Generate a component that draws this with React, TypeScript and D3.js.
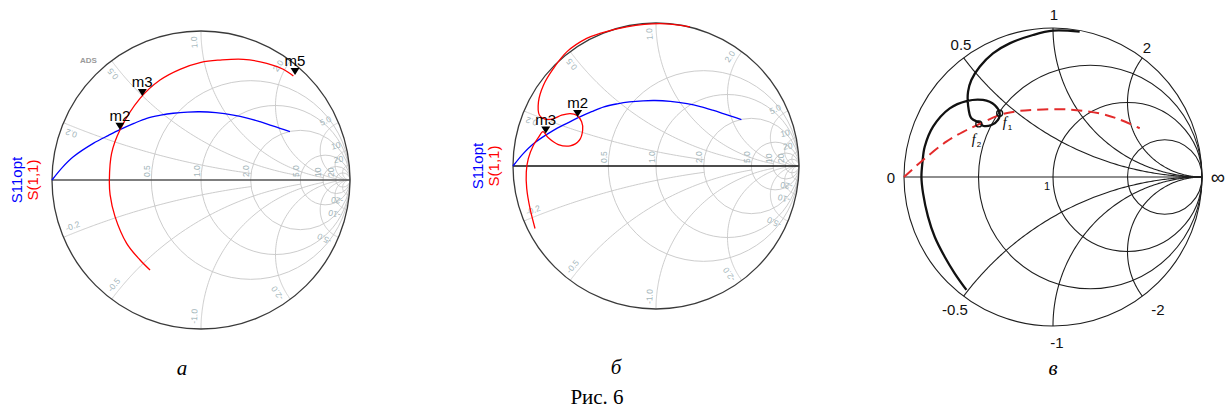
import React from "react";
import * as d3 from "d3";

type Pt = [number, number];

// traces as reflection coefficient (re, im)
const s11opt: Pt[] = [
  [-1, 0], [-0.93, 0.085], [-0.857, 0.156], [-0.723, 0.246], [-0.62, 0.3],
  [-0.544, 0.338], [-0.45, 0.38], [-0.364, 0.414], [-0.27, 0.435], [-0.186, 0.448],
  [-0.09, 0.456], [-0.007, 0.458], [0.1, 0.452], [0.217, 0.436], [0.31, 0.416],
  [0.396, 0.391], [0.47, 0.367], [0.53, 0.347], [0.597, 0.324],
];

const s11a: Pt[] = [
  [-0.342, -0.604], [-0.409, -0.537], [-0.499, -0.425], [-0.577, -0.246], [-0.61, -0.1],
  [-0.615, 0], [-0.6, 0.179], [-0.544, 0.336], [-0.409, 0.548], [-0.275, 0.671],
  [-0.141, 0.743], [0, 0.79], [0.128, 0.805], [0.284, 0.81], [0.441, 0.783],
  [0.552, 0.743], [0.62, 0.698],
];

const s11b: Pt[] = [
  [0.238, 0.973], [0.028, 0.995], [-0.205, 0.973], [-0.392, 0.927], [-0.485, 0.892],
  [-0.624, 0.798], [-0.717, 0.682], [-0.787, 0.565], [-0.822, 0.448], [-0.815, 0.355],
  [-0.78, 0.33], [-0.72, 0.33], [-0.66, 0.355], [-0.6, 0.366], [-0.555, 0.355],
  [-0.52, 0.31], [-0.513, 0.25], [-0.536, 0.18], [-0.6, 0.141], [-0.683, 0.15],
  [-0.753, 0.197], [-0.79, 0.24], [-0.822, 0.2], [-0.857, 0.145], [-0.893, 0.052],
  [-0.907, -0.04], [-0.904, -0.157], [-0.881, -0.297], [-0.846, -0.437],
];

const curveC: Pt[] = [
  [-0.581, -0.758], [-0.66, -0.646], [-0.727, -0.535], [-0.794, -0.401], [-0.839, -0.266],
  [-0.872, -0.11], [-0.883, 0], [-0.876, 0.1], [-0.861, 0.203], [-0.805, 0.338],
  [-0.693, 0.461], [-0.581, 0.51], [-0.47, 0.517], [-0.391, 0.483], [-0.358, 0.428],
  [-0.369, 0.383], [-0.413, 0.349], [-0.47, 0.344], [-0.492, 0.364], [-0.548, 0.394],
  [-0.57, 0.483], [-0.57, 0.573], [-0.548, 0.651], [-0.492, 0.74], [-0.403, 0.83],
  [-0.291, 0.897], [-0.134, 0.953], [0, 0.982], [0.179, 0.975],
];

const optC: Pt[] = [
  [-1, 0], [-0.872, 0.114], [-0.716, 0.237], [-0.6, 0.305], [-0.492, 0.356],
  [-0.358, 0.416], [-0.25, 0.44], [-0.134, 0.45], [0.09, 0.454], [0.313, 0.427],
  [0.45, 0.385], [0.582, 0.327],
];

const markersA = [
  { name: "m2", at: [-0.544, 0.338] as Pt },
  { name: "m3", at: [-0.394, 0.564] as Pt },
  { name: "m5", at: [0.631, 0.705] as Pt },
];
const markersB = [
  { name: "m2", at: [-0.548, 0.343] as Pt },
  { name: "m3", at: [-0.771, 0.227] as Pt },
];
const freqC = [
  { name: "1", at: [-0.358, 0.428] as Pt },
  { name: "2", at: [-0.498, 0.356] as Pt },
];

// ADS grid
const adsR = [0.5, 1, 2, 5, 10, 20];
const adsRLabels = ["0.5", "1.0", "2.0", "5.0", "10", "20"];
const adsX = [0.2, 0.5, 1, 2, 5, 10, 20];
const adsXLabels = ["0.2", "0.5", "1.0", "2.0", "5.0", "10", "20"];

// plain grid of в
const gridR = [1 / 3, 1, 3];
const gridX = [0.5, 1, 2, -0.5, -1, -2];

const gamma = (r: number, x: number): Pt => {
  const d = (r + 1) * (r + 1) + x * x;
  return [(r * r - 1 + x * x) / d, (2 * x) / d];
};

const xArcPoints = (x: number, rMax: number): Pt[] => {
  const pts: Pt[] = [gamma(0, x)];
  for (let k = -2; k < Math.log10(rMax); k += 0.02) pts.push(gamma(Math.pow(10, k), x));
  pts.push(gamma(rMax, x));
  return pts;
};

const scalesFor = (cx: number, cy: number, R: number) => {
  const sx = d3.scaleLinear().domain([-1, 1]).range([cx - R, cx + R]);
  const sy = d3.scaleLinear().domain([-1, 1]).range([cy + R, cy - R]);
  return { sx, sy };
};

const AdsChart = ({ cx, cy, R, red, markers, ads, axisColor }:
  { cx: number; cy: number; R: number; red: Pt[]; markers: { name: string; at: Pt }[]; ads?: boolean; axisColor: string }) => {
  const { sx, sy } = scalesFor(cx, cy, R);
  const straight = d3.line<Pt>().x(d => sx(d[0])).y(d => sy(d[1]));
  const smooth = d3.line<Pt>().x(d => sx(d[0])).y(d => sy(d[1])).curve(d3.curveCatmullRom);
  const gridCol = "#c6c6c6";
  const labCol = "#a3b5ba";

  const xLabels: React.ReactNode[] = [];
  adsX.forEach((x, i) => {
    [1, -1].forEach(s => {
      const g = gamma(0, s * x);
      const th = Math.atan2(g[1], g[0]) + s * 0.05;
      const px = cx + R * 0.965 * Math.cos(th);
      const py = cy - R * 0.965 * Math.sin(th);
      const rot = s > 0
        ? Math.atan2(-Math.sin(th), Math.cos(th)) * 180 / Math.PI
        : Math.atan2(Math.sin(th), -Math.cos(th)) * 180 / Math.PI;
      xLabels.push(
        <text key={`xl${i}${s}`} x={px} y={py} fill={labCol} fontSize={8.5}
          fontFamily="Liberation Sans, Arial" textAnchor={s > 0 ? "end" : "start"}
          dominantBaseline="central" transform={`rotate(${rot},${px},${py})`}>
          {(s < 0 ? "-" : "") + adsXLabels[i]}
        </text>
      );
    });
  });

  return (
    <g>
      {adsR.map(r => {
        const c = r / (r + 1), rad = 1 / (r + 1);
        return <circle key={`r${r}`} cx={sx(c)} cy={cy} r={sx(c + rad) - sx(c)} fill="none" stroke={gridCol} strokeWidth={0.9} />;
      })}
      {adsX.map(x => [1, -1].map(s => (
        <path key={`x${x}${s}`} d={straight(xArcPoints(s * x, x * 10)) || ""} fill="none" stroke={gridCol} strokeWidth={0.9} />
      )))}
      {adsR.map((r, i) => {
        const px = sx((r - 1) / (r + 1)) - 1.5;
        return (
          <text key={`rl${r}`} x={px} y={cy - 3} fill={labCol} fontSize={8.5} fontFamily="Liberation Sans, Arial"
            transform={`rotate(-90,${px},${cy - 3})`}>{adsRLabels[i]}</text>
        );
      })}
      {xLabels}
      <line x1={sx(-1)} x2={sx(1)} y1={cy} y2={cy} stroke={axisColor} strokeWidth={1.6} />
      <circle cx={cx} cy={cy} r={R} fill="none" stroke="#3a3a3a" strokeWidth={1.3} />
      <path d={smooth(s11opt) || ""} fill="none" stroke="#0000ff" strokeWidth={1.3} />
      <path d={smooth(red) || ""} fill="none" stroke="#ff0000" strokeWidth={1.3} />
      {markers.map(m => {
        const tx = sx(m.at[0]), ty = sy(m.at[1]);
        return (
          <g key={m.name}>
            <path d={`M${tx},${ty}L${tx - 4.5},${ty - 7}L${tx + 4.5},${ty - 7}Z`} fill="#000" />
            <text x={tx} y={ty - 9} textAnchor="middle" fontSize={15} fontFamily="Liberation Sans, Arial" fill="#000">{m.name}</text>
          </g>
        );
      })}
      {ads && <text x={cx - 121} y={cy - 117} fontSize={8} fontWeight="bold" fill="#9a9a9a" fontFamily="Liberation Sans, Arial">ADS</text>}
      <text x={cx - R - 36} y={cy} transform={`rotate(-90,${cx - R - 36},${cy})`} textAnchor="middle" dominantBaseline="central"
        fontSize={15} fontFamily="Liberation Sans, Arial" fill="#0000ff">S11opt</text>
      <text x={cx - R - 20} y={cy} transform={`rotate(-90,${cx - R - 20},${cy})`} textAnchor="middle" dominantBaseline="central"
        fontSize={15} fontFamily="Liberation Sans, Arial" fill="#ff0000">S(1,1)</text>
    </g>
  );
};

const PlainChart = ({ cx, cy, R }: { cx: number; cy: number; R: number }) => {
  const { sx, sy } = scalesFor(cx, cy, R);
  const straight = d3.line<Pt>().x(d => sx(d[0])).y(d => sy(d[1]));
  const smooth = d3.line<Pt>().x(d => sx(d[0])).y(d => sy(d[1])).curve(d3.curveCatmullRom);
  const col = "#1e1e1e";
  const font = "Liberation Sans, Arial";
  return (
    <g>
      <circle cx={cx} cy={cy} r={R} fill="none" stroke={col} strokeWidth={1.1} />
      {gridR.map(r => {
        const c = r / (r + 1), rad = 1 / (r + 1);
        return <circle key={`r${r}`} cx={sx(c)} cy={cy} r={sx(c + rad) - sx(c)} fill="none" stroke={col} strokeWidth={1.1} />;
      })}
      {gridX.map(x => (
        <path key={`x${x}`} d={straight(xArcPoints(x, 1e4)) || ""} fill="none" stroke={col} strokeWidth={1.1} />
      ))}
      <line x1={sx(-1)} x2={sx(1)} y1={cy} y2={cy} stroke={col} strokeWidth={1.1} />
      <path d={smooth(curveC) || ""} fill="none" stroke="#111" strokeWidth={2.3} />
      <path d={smooth(optC) || ""} fill="none" stroke="#e32b2b" strokeWidth={2} strokeDasharray="11 6" />
      {freqC.map(f => (
        <circle key={f.name} cx={sx(f.at[0])} cy={sy(f.at[1])} r={3} fill="none" stroke="#111" strokeWidth={1.3} />
      ))}
      <text x={sx(-0.358) + 3} y={sy(0.428) + 14} fontSize={14} fontStyle="italic" fontFamily="Liberation Serif, serif">f</text>
      <text x={sx(-0.358) + 8} y={sy(0.428) + 17} fontSize={8} fontFamily={font}>1</text>
      <text x={sx(-0.498) - 7} y={sy(0.356) + 20} fontSize={14} fontStyle="italic" fontFamily="Liberation Serif, serif">f</text>
      <text x={sx(-0.498) - 2} y={sy(0.356) + 23} fontSize={8} fontFamily={font}>2</text>
      <g fontFamily={font} fontSize={15} fill="#111" textAnchor="middle">
        <text x={cx + 1} y={20}>1</text>
        <text x={cx - 92} y={50}>0.5</text>
        <text x={cx + 94} y={53}>2</text>
        <text x={cx - 162} y={183}>0</text>
        <text x={cx + 165} y={184} fontSize={20}>∞</text>
        <text x={cx - 6} y={190} fontSize={11}>1</text>
        <text x={cx - 98} y={315}>-0.5</text>
        <text x={cx + 105} y={315}>-2</text>
        <text x={cx + 4} y={348}>-1</text>
      </g>
    </g>
  );
};

export default function App() {
  return (
    <svg width={1226} height={409} style={{ position: "absolute", left: 0, top: 0, background: "#fff" }}>
      <rect width={1226} height={409} fill="#fff" />
      <AdsChart cx={201} cy={180} R={149} red={s11a} markers={markersA} ads axisColor="#555" />
      <AdsChart cx={656} cy={166} R={143} red={s11b} markers={markersB} axisColor="#111" />
      <PlainChart cx={1053} cy={177} R={149} />
      <g fontFamily="Liberation Serif, Times New Roman, serif" fontSize={21} fill="#000" textAnchor="middle">
        <text x={182} y={375} fontStyle="italic">а</text>
        <text x={616} y={374} fontStyle="italic">б</text>
        <text x={1053} y={375} fontStyle="italic">в</text>
        <text x={597} y={404}>Рис. 6</text>
      </g>
    </svg>
  );
}
